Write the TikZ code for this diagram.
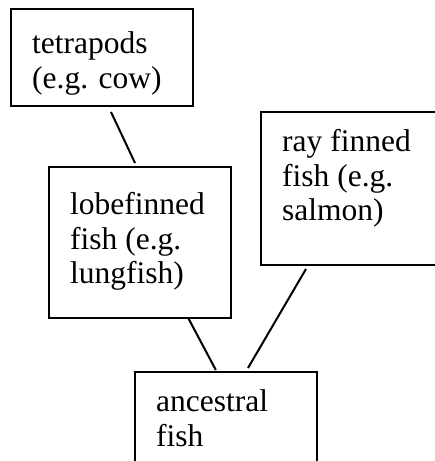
\documentclass[tikz,border=0pt]{standalone}
\usepackage{fontspec}
\setmainfont{Liberation Serif}
\usetikzlibrary{calc}
\tikzset{
  box/.style={draw, line width=2pt, inner sep=0pt, outer sep=0pt, anchor=north west, minimum width=182pt},
  lbl/.style={inner sep=0pt, anchor=base west, font=\fontsize{31.5}{34.5}\selectfont},
  link/.style={line width=2pt}
}
\begin{document}
\begin{tikzpicture}[x=1pt,y=1pt]
\useasboundingbox (0,0) rectangle (435,461);
\clip (0,0) rectangle (435,461);
% boxes
\node[box, minimum height=96.5pt] (tet) at (11,451.5) {};
\node[box, minimum height=151pt] (lobe) at (49,294) {};
\node[box, minimum height=153pt] (ray) at (261,349) {};
\node[box, minimum height=153pt] (anc) at (135,89) {};
% texts
\node[lbl] (ttet) at (32,407) {\vtop{\hbox{tetrapods}\hbox{(e.g. cow)}}};
\node[lbl] (tlobe) at (70,246) {\vtop{\hbox{lobefinned}\hbox{fish (e.g.}\hbox{lungfish)}}};
\node[lbl] (tray) at (282,309) {\vtop{\hbox{ray finned}\hbox{fish (e.g.}\hbox{salmon)}}};
\node[lbl] (tanc) at (156,49) {\vtop{\hbox{ancestral}\hbox{fish}}};
% connectors
\draw[link, shorten <=6.6pt, shorten >=4.4pt]
  ($(tet.south west)!0.534!(tet.south east)$) -- ($(lobe.north west)!0.483!(lobe.north east)$);
\draw[link, shorten >=2.3pt]
  ($(lobe.south west)!0.765!(lobe.south east)$) -- ($(anc.north west)!0.45!(anc.north east)$);
\draw[link, shorten <=4.6pt, shorten >=4.6pt]
  ($(ray.south west)!0.26!(ray.south east)$) -- ($(anc.north west)!0.608!(anc.north east)$);
\end{tikzpicture}
\end{document}
